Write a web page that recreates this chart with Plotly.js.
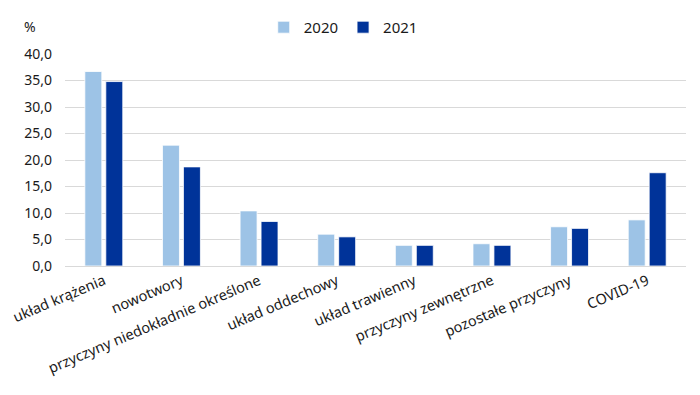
<!DOCTYPE html>
<html>
<head>
<meta charset="utf-8">
<script src="https://cdn.plot.ly/plotly-3.0.1.min.js"></script>
<style>html,body{margin:0;padding:0;background:#fff;}#chart{width:700px;height:395px;}</style>
</head>
<body>
<div id="chart"></div>
<script>
const categories = ["układ krążenia","nowotwory","przyczyny niedokładnie określone","układ oddechowy","układ trawienny","przyczyny zewnętrzne","pozostałe przyczyny","COVID-19"];
const values2020 = [36.7, 22.8, 10.4, 6.0, 3.9, 4.2, 7.4, 8.7];
const values2021 = [34.8, 18.7, 8.4, 5.5, 3.9, 3.9, 7.1, 17.6];
const seriesNames = ["2020", "2021"];
const yTicks = [0, 5, 10, 15, 20, 25, 30, 35, 40];

const font = "Noto Sans, Open Sans, sans-serif";
const traces = [
  {type: "bar", name: seriesNames[0], x: categories, y: values2020,
   marker: {color: "#9dc3e6", line: {color: "#ffffff", width: 0.8}}},
  {type: "bar", name: seriesNames[1], x: categories, y: values2021,
   marker: {color: "#003399", line: {color: "#ffffff", width: 0.8}}}
];
const layout = {
  width: 700, height: 395,
  margin: {l: 65, r: 14, t: 53, b: 129},
  paper_bgcolor: "#fff", plot_bgcolor: "#fff",
  separators: ", ",
  font: {family: font, size: 14, color: "#1a1a1a"},
  barmode: "group",
  bargap: 0.46,
  bargroupgap: 0.19,
  showlegend: true,
  legend: {orientation: "h", x: 0.32, xanchor: "left", y: 1.12, yanchor: "middle",
           font: {family: font, size: 15, color: "#1a1a1a"}, itemwidth: 30, tracegroupgap: 0},
  xaxis: {tickangle: -23, showgrid: false, showline: false, ticks: "", automargin: false,
          ticklabelstandoff: 3,
          tickfont: {family: font, size: 14.5, color: "#1a1a1a"}},
  yaxis: {range: [0, 40], tickvals: yTicks, tickformat: ".1f", showgrid: true,
          gridcolor: "#d9d9d9", gridwidth: 1, zeroline: true, zerolinecolor: "#d9d9d9", zerolinewidth: 1,
          showline: false, ticks: "", ticklabelstandoff: 12, automargin: false,
          tickfont: {family: font, size: 14, color: "#1a1a1a"}},
  annotations: [{text: "%", xref: "paper", yref: "paper", x: -0.056, y: 1.13, xanchor: "center", yanchor: "middle",
                 showarrow: false, font: {family: font, size: 14, color: "#1a1a1a"}}]
};
Plotly.newPlot("chart", traces, layout, {displayModeBar: false, staticPlot: true});
</script>
</body>
</html>
